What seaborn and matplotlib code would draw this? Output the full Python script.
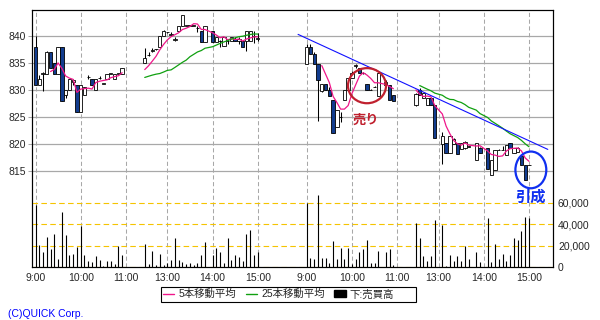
import numpy as np
import pandas as pd
import matplotlib
matplotlib.use("Agg")
import matplotlib.pyplot as plt
import seaborn as sns
from matplotlib.patches import Ellipse, Patch, Rectangle
from matplotlib.lines import Line2D
from matplotlib.ticker import FuncFormatter

nan = np.nan

# ---------------- data (5-minute bars, two trading days) ----------------
# session: day, first slot
session_day = [1, 1, 2, 2]
session_start = [0, 29, 72, 101]

# Day 1 morning
d1am_open  = [838, 831, 833, 833, 837, 835, 833, 838, 829, 830, 831.5, 831, 826, 829, 832.4, 832, 830, 832.2, 831.2, 832, 833, 832, 833, 833]
d1am_high  = [840, 832.8, 833.3, 837.2, 837, 835, 838, 838, 830, 832, 832, 831, 831, 830.5, 832.8, 832, 832, 832.5, 831.2, 833, 833, 833, 833, 834]
d1am_low   = [831, 831, 829.9, 833, 834, 833, 833, 828, 828.5, 830, 831, 826, 826, 829, 832, 831, 830, 832, 831.2, 832, 833, 832, 833, 833]
d1am_close = [831, 832, 833.1, 837, 834, 833, 838, 828, 830, 832, 831.8, 826, 831, 830.5, 832.4, 831, 832, 832.2, 831.2, 833, 833, 833, 833, 834]
d1am_vol   = [57500, 20200, 14000, 28000, 16800, 30500, 7200, 51000, 29500, 10900, 12500, 18400, 37900, 10900, 5300, 4400, 10000, 6200, 500, 5300, 5300, 3100, 19300, 10900]

# Day 1 afternoon
d1pm_open  = [835.0, 836.5, 837.3, 837.5, 837.9, 840.0, 840.7, 840.2, 839.3, 840.9, 841.8, 841.9, 841.9, 841.9, 841.5, 840.9, 838.9, nan, 840.9, 838.9, 839.0, 838.1, 839.0, 839.0, 839.5, 839.0, 839.0, 839.0, 839.0, 840.0, 839.5]
d1pm_high  = [837.8, 837.0, 837.8, 837.6, 840.0, 841.2, 840.8, 840.8, 839.8, 841.8, 843.9, 841.9, 842.0, 841.9, 841.9, 840.9, 841.8, nan, 840.9, 839.8, 839.3, 839.8, 839.5, 839.9, 839.8, 839.9, 839.0, 840.9, 840.9, 840.9, 840.5]
d1pm_low   = [835.0, 836.3, 837.1, 837.4, 837.9, 840.0, 840.6, 840.0, 839.0, 840.9, 841.8, 841.9, 841.8, 841.9, 840.8, 838.9, 838.9, nan, 838.9, 838.9, 838.0, 838.1, 838.5, 839.0, 839.0, 838.5, 837.9, 837.2, 839.0, 838.7, 839.0]
d1pm_close = [835.9, 836.5, 837.3, 837.5, 840.0, 840.9, 840.7, 840.3, 839.3, 841.8, 843.9, 841.9, 841.9, 841.9, 841.5, 838.9, 841.8, nan, 838.9, 839.8, 839.0, 839.8, 839.0, 839.9, 839.0, 839.5, 837.9, 840.9, 840.9, 840.0, 839.5]
d1pm_vol   = [21200, 3100, 14900, 1600, 12500, 1600, 4000, 6200, 27000, 6200, 4400, 2500, 3400, 1500, 3400, 10900, 23000, nan, 10900, 17400, 13700, 3400, 27000, 6200, 10900, 9000, 5300, 30500, 34500, 10900, 14000]

# Day 2 morning
d2am_open  = [834.9, 837.9, 836.7, 834.9, 829.9, 831.2, 830.0, 828.1, 823.1, 825.0, 828.1, 830.0, 832.2, 834.5, 834.0, 833.1, 831.2, 830.0, 830.5, 828.8, nan, 831.0, 831.0, 829.1]
d2am_high  = [838.6, 838.6, 837.0, 834.9, 831.2, 831.2, 830.5, 828.1, 826.3, 826.0, 830.0, 832.2, 833.5, 834.9, 834.0, 833.3, 831.2, 830.2, 830.7, 833.1, nan, 831.8, 831.0, 829.1]
d2am_low   = [834.9, 836.7, 834.9, 824.3, 829.7, 830.0, 828.9, 822.1, 823.1, 824.1, 828.1, 830.0, 832.2, 834.0, 833.1, 833.0, 830.0, 830.0, 830.5, 828.8, nan, 830.8, 828.1, 828.0]
d2am_close = [837.9, 836.7, 834.9, 831.9, 831.2, 830.0, 828.9, 822.1, 826.3, 825.0, 830.0, 832.2, 833.1, 834.5, 833.1, 833.1, 830.0, 830.0, 830.5, 833.1, nan, 831.5, 828.1, 828.0]
d2am_vol   = [59600, 8400, 7200, 66800, 8400, 8400, 3700, 23900, 7200, 17400, 7200, 17400, 2500, 7200, 13700, 16500, 24900, 3400, 3400, 14900, nan, 14000, 16500, 1600]

# Day 2 afternoon
d2pm_open  = [827.2, 830.0, 828.5, 827.2, 828.5, 827.2, nan, 820.0, 820.1, 818.3, 820.0, 820.1, 819.0, 819.2, 819.5, nan, 817.0, 819.2, nan, 819.2, 814.3, 815.2, 818.9, 818.9, 818.0, 820.1, 818.4, 818.5, 817.8, 816.1, 816.1]
d2pm_high  = [829.5, 830.3, 829.5, 828.5, 828.5, 827.2, nan, 822.3, 820.1, 821.4, 821.2, 820.1, 820.1, 820.5, 819.6, nan, 820.1, 819.5, nan, 819.2, 817.0, 818.9, 819.0, 819.6, 819.8, 820.1, 819.2, 819.5, 817.8, 816.1, 816.1]
d2pm_low   = [827.0, 829.0, 828.5, 827.2, 827.2, 821.2, nan, 816.3, 818.3, 818.3, 820.0, 818.1, 819.0, 819.0, 819.4, nan, 817.0, 818.4, nan, 815.3, 814.3, 815.2, 818.8, 818.9, 818.0, 819.2, 818.4, 818.5, 816.2, 813.3, 816.1]
d2pm_close = [829.3, 829.1, 829.5, 828.5, 827.2, 821.2, nan, 821.4, 818.3, 821.4, 821.0, 818.1, 820.1, 820.3, 819.5, nan, 820.1, 818.4, nan, 815.3, 817.0, 818.9, 818.9, 818.9, 819.8, 819.2, 819.2, 819.2, 816.2, 813.3, 816.1]
d2pm_vol   = [40700, 26700, 10000, 5300, 10000, 43500, nan, 39100, 1000, 10900, 5300, 10000, 5300, 19300, 7200, nan, 13700, 4400, nan, 45400, 4400, 21200, 7200, 11800, 5300, 10900, 27000, 24900, 33300, 46300, 45400]

tick_slots  = [0, 12, 24, 35, 47, 59, 72, 84, 96, 107, 119, 131]
tick_labels = ["9:00", "10:00", "11:00", "13:00", "14:00", "15:00",
               "9:00", "10:00", "11:00", "13:00", "14:00", "15:00"]
price_ticks = [815, 820, 825, 830, 835, 840]
vol_ticks = [0, 20000, 40000, 60000]

trend_x = [69.7, 136.0]
trend_y = [840.3, 819.0]

# ---------------- build table ----------------
sessions = [
    (d1am_open, d1am_high, d1am_low, d1am_close, d1am_vol),
    (d1pm_open, d1pm_high, d1pm_low, d1pm_close, d1pm_vol),
    (d2am_open, d2am_high, d2am_low, d2am_close, d2am_vol),
    (d2pm_open, d2pm_high, d2pm_low, d2pm_close, d2pm_vol),
]
frames = []
for k, (o, h, l, c, v) in enumerate(sessions):
    n = len(c)
    frames.append(pd.DataFrame({
        "slot": np.arange(n) + session_start[k],
        "day": session_day[k], "session": k,
        "open": o, "high": h, "low": l, "close": c, "vol": v}))
df = pd.concat(frames, ignore_index=True)
bars = df.dropna(subset=["close"]).copy()
bars["ma5"] = bars.groupby("day")["close"].transform(lambda s: s.rolling(5).mean())
bars["ma25"] = bars.groupby("day")["close"].transform(lambda s: s.rolling(25).mean())

# ---------------- style ----------------
sns.set_style("white")
plt.rcParams["font.family"] = ["Liberation Sans", "Noto Sans CJK JP"]
plt.rcParams["font.size"] = 7.5

PINK = "#f0168a"
GREEN = "#10a010"
NAVY = "#123c8e"
GRAY = "#a8a8a8"
YELLOW = "#f5c400"

fig = plt.figure(figsize=(6, 3.2), dpi=100)
L, R, T, B = 32, 553, 10, 267
ax = fig.add_axes([L / 600, 1 - B / 320, (R - L) / 600, (B - T) / 320])
ax.set_xlim(-0.93, 137.38)
ax.set_ylim(797.22, 844.815)

ax.set_yticks(price_ticks)
ax.set_yticklabels([str(p) for p in price_ticks])
ax.set_xticks(tick_slots)
ax.set_xticklabels(tick_labels)
ax.grid(axis="y", color=GRAY, lw=0.9, ls="-")
ax.grid(axis="x", color=GRAY, lw=0.75, ls=(0, (4, 2.5)))
ax.set_axisbelow(True)
ax.tick_params(axis="y", length=3, width=0.75, color=GRAY, pad=1.5, labelsize=7.5)
ax.tick_params(axis="x", length=0, pad=4, labelsize=7.5)
for s in ax.spines.values():
    s.set_color("black")
    s.set_linewidth(0.8)

# volume on a twin axis
axv = ax.twinx()
axv.set_ylim(0, 239200)
axv.vlines(bars["slot"], 0, bars["vol"].fillna(0), color="black", lw=0.8, zorder=3)
axv.set_yticks(vol_ticks)
axv.yaxis.set_major_formatter(FuncFormatter(lambda v, p: f"{int(v):,}"))
axv.grid(axis="y", color=YELLOW, lw=0.8, ls=(0, (5, 3)))
axv.set_axisbelow(True)
axv.tick_params(axis="y", length=0, pad=3.6, labelsize=7.5)
for s in axv.spines.values():
    s.set_color("black")
    s.set_linewidth(0.8)

# candles
up = bars["close"] >= bars["open"]
body_lo = np.minimum(bars["open"], bars["close"])
body_h = np.maximum((bars["close"] - bars["open"]).abs(), 0.06)
ax.vlines(bars["slot"], bars["low"], bars["high"], color="black", lw=0.75, zorder=2)
ax.bar(bars["slot"], body_h, bottom=body_lo, width=0.88,
       color=np.where(up, "white", NAVY), edgecolor="black", linewidth=0.6, zorder=3)

# moving averages (seaborn, broken at session gaps)
sns.lineplot(data=bars.dropna(subset=["ma5"]), x="slot", y="ma5", units="session",
             estimator=None, color=PINK, lw=0.9, ax=ax, legend=False, zorder=4)
sns.lineplot(data=bars.dropna(subset=["ma25"]), x="slot", y="ma25", units="session",
             estimator=None, color=GREEN, lw=0.9, ax=ax, legend=False, zorder=4)
ax.set_xlabel("")
ax.set_ylabel("")
ax.set_xlim(-0.93, 137.38)
ax.set_ylim(797.22, 844.815)

# trend line and annotations
ax.plot(trend_x, trend_y, color="#1010ff", lw=0.8, zorder=5)
ax.add_patch(Ellipse((88.0, 830.8), 10.1, 6.5, fill=False, edgecolor="#c0202e", lw=1.6, zorder=6))
ax.text(87.6, 824.4, "売り", color="#c0202e", fontsize=9.5, fontweight="bold",
        ha="center", va="center", family=["Noto Sans CJK JP"], zorder=6)
ax.add_patch(Ellipse((131.5, 815.2), 8.2, 6.8, fill=False, edgecolor="#1030f0", lw=1.6, zorder=6))
ax.text(131.4, 810.3, "引成", color="#1030f0", fontsize=11, fontweight="bold",
        ha="center", va="center", family=["Noto Sans CJK JP"], zorder=6)

# legend (frame drawn separately to match the wide box)
fig.patches.append(Rectangle((161 / 600, 1 - 301.5 / 320), (416 - 161) / 600, 14.8 / 320,
                             transform=fig.transFigure, facecolor="white",
                             edgecolor="black", lw=0.8, zorder=1))
handles = [Line2D([0], [0], color=PINK, lw=1.0),
           Line2D([0], [0], color=GREEN, lw=1.0),
           Patch(facecolor="black", edgecolor="black")]
labels = ["5本移動平均", "25本移動平均", "下:売買高"]
leg = fig.legend(handles, labels, loc="center left", bbox_to_anchor=(163 / 600, 1 - 294.2 / 320),
                 ncol=3, frameon=False, fontsize=7.5, handlelength=1.1, handleheight=0.6,
                 handletextpad=0.4, columnspacing=0.9, borderpad=0.0, borderaxespad=0)
leg.set_zorder(2)

fig.text(8 / 600, 1 - 314 / 320, "(C)QUICK Corp.", color="#0000ff", fontsize=7.5, va="center")

fig.savefig("out.png", dpi=100)
